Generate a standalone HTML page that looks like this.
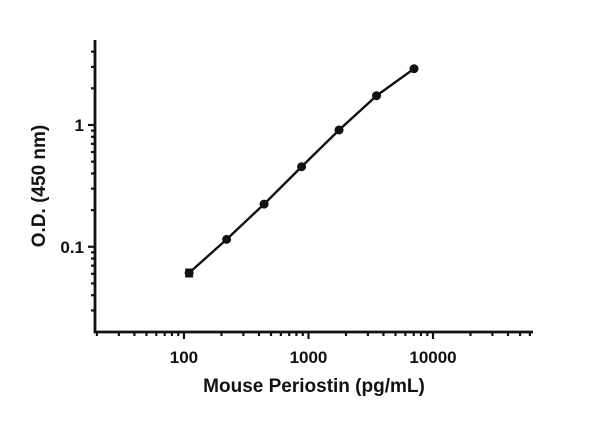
<!DOCTYPE html>
<html><head><meta charset="utf-8"><style>
body{margin:0;background:#fff}
svg text{font-family:"Liberation Sans",sans-serif;font-weight:bold;fill:#111}
</style></head><body>
<svg id="chart" width="600" height="421" viewBox="0 0 600 421" xmlns="http://www.w3.org/2000/svg">
<g id="axes"></g><g id="series"></g>
<text x="314" y="392" font-size="19" text-anchor="middle">Mouse Periostin (pg/mL)</text>
<text transform="translate(45,186) rotate(-90)" font-size="19" text-anchor="middle">O.D. (450 nm)</text>
</svg>
<script>
const concentrations=[110,220,440,880,1760,3520,7040];
const odValues=[0.061,0.115,0.224,0.454,0.91,1.74,2.90];
const odErrors=[0.004,0.002,0.003,0.005,0.01,0.02,0.03];
const xTickLabels=["100","1000","10000"];
const yTickLabels=["0.1","1"];
const NS="http://www.w3.org/2000/svg";
const X0=95,X1=533,Y0=332,Y1=40;
const xMinL=Math.log10(19.3),xMaxL=4.803,yMinL=-1.70,yMaxL=0.698;
function sx(v){return X0+(Math.log10(v)-xMinL)/(xMaxL-xMinL)*(X1-X0);}
function sy(v){return Y0-(Math.log10(v)-yMinL)/(yMaxL-yMinL)*(Y0-Y1);}
function mk(tag,attrs,parent){const e=document.createElementNS(NS,tag);for(const k in attrs)e.setAttribute(k,attrs[k]);parent.appendChild(e);return e;}
const axes=document.getElementById('axes'),series=document.getElementById('series');
let a=mk('line',{x1:X0,y1:Y1,x2:X0,y2:Y0+1,stroke:'#111','stroke-width':2.8},axes);


a=mk('line',{x1:X0-1,y1:Y0,x2:X1,y2:Y0,stroke:'#111','stroke-width':2.8},axes);


for(let d=10;d<=10000;d*=10){for(let m=1;m<10;m++){const v=d*m;const x=sx(v);if(x<X0+1||x>X1)continue;const major=(m===1);
const t=mk('line',{x1:x,y1:Y0,x2:x,y2:Y0+(major?7:4),stroke:'#111','stroke-width':2.2},axes);

}}
xTickLabels.forEach(l=>{const t=mk('text',{x:sx(+l),y:Y0+31,'font-size':17,'text-anchor':'middle'},axes);t.textContent=l;

});
for(let d=0.01;d<=1.01;d*=10){for(let m=1;m<10;m++){const v=d*m;const y=sy(v);if(y>Y0-1||y<Y1)continue;const major=(m===1);
const t=mk('line',{x1:X0,y1:y,x2:X0-(major?7:4),y2:y,stroke:'#111','stroke-width':2.2},axes);

}}
yTickLabels.forEach(l=>{const t=mk('text',{x:X0-11,y:sy(+l)+6,'font-size':17,'text-anchor':'end'},axes);t.textContent=l;

});
const pts=concentrations.map((c,i)=>sx(c)+','+sy(odValues[i])).join(' ');
const ln=mk('polyline',{points:pts,fill:'none',stroke:'#111','stroke-width':2.4,'stroke-linejoin':'round'},series);


concentrations.forEach((c,i)=>{const x=sx(c);
const e=mk('line',{x1:x,y1:sy(odValues[i]+odErrors[i]),x2:x,y2:sy(odValues[i]-odErrors[i]),stroke:'#111','stroke-width':2},series);


for(const v of [odValues[i]+odErrors[i],odValues[i]-odErrors[i]]){const cap=mk('line',{x1:x-4,y1:sy(v),x2:x+4,y2:sy(v),stroke:'#111','stroke-width':2},series);

}
const p=mk('circle',{cx:x,cy:sy(odValues[i]),r:4.5,fill:'#111'},series);

});
</script>
</body></html>
